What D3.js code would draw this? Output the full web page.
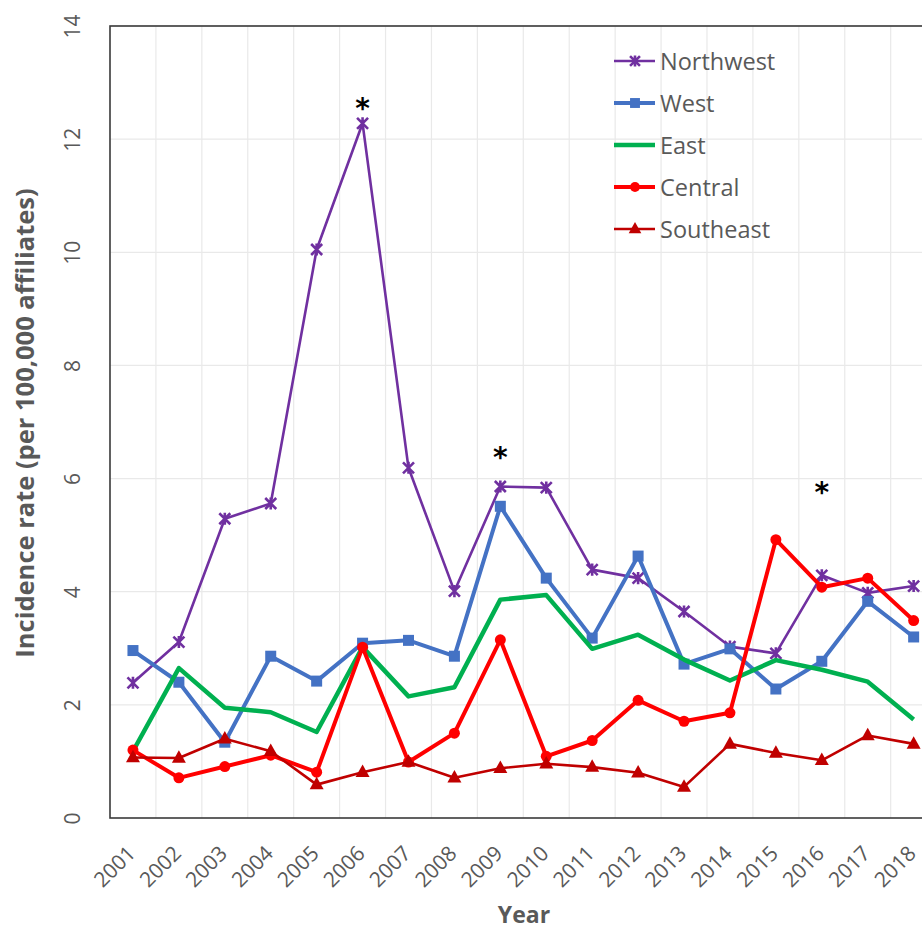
<!DOCTYPE html>
<html>
<head>
<meta charset="utf-8">
<script src="https://cdn.jsdelivr.net/npm/d3@7"></script>
<style>
  html, body { margin: 0; padding: 0; background: #fff; overflow: hidden; }
  svg { display: block; }
</style>
</head>
<body>
<svg id="chart" width="922" height="930"></svg>
<script>
// Incidence rate per 100,000 affiliates, by region, 2001–2018
const years = ["2001","2002","2003","2004","2005","2006","2007","2008","2009",
               "2010","2011","2012","2013","2014","2015","2016","2017","2018"];

const northwest = [2.39, 3.11, 5.29, 5.56, 10.05, 12.28, 6.19, 4.01, 5.86,
                   5.84, 4.39, 4.24, 3.65, 3.03, 2.91, 4.29, 3.98, 4.10];
const west      = [2.96, 2.40, 1.34, 2.86, 2.42, 3.09, 3.14, 2.86, 5.51,
                   4.24, 3.18, 4.63, 2.72, 2.99, 2.28, 2.77, 3.83, 3.20];
const east      = [1.18, 2.65, 1.95, 1.87, 1.52, 3.02, 2.15, 2.31, 3.86,
                   3.94, 2.99, 3.24, 2.80, 2.43, 2.79, 2.62, 2.41, 1.74];
const central   = [1.20, 0.71, 0.91, 1.11, 0.81, 3.02, 0.99, 1.50, 3.15,
                   1.09, 1.37, 2.08, 1.71, 1.86, 4.92, 4.08, 4.24, 3.49];
const southeast = [1.07, 1.06, 1.40, 1.18, 0.59, 0.81, 0.99, 0.71, 0.88,
                   0.96, 0.90, 0.80, 0.55, 1.31, 1.15, 1.02, 1.46, 1.31];

const yTicks = [0, 2, 4, 6, 8, 10, 12, 14];

// Significance markers (year, height in rate units)
const starYears  = ["2006", "2009", "2016"];
const starLevels = [12.66, 6.48, 5.86];

const seriesNames = ["Northwest", "West", "East", "Central", "Southeast"];
const seriesData  = [northwest, west, east, central, southeast];

const styles = {
  Northwest: { color: "#7030A0", width: 2.6, marker: "star" },
  West:      { color: "#4472C4", width: 4,   marker: "square" },
  East:      { color: "#00B050", width: 4.5, marker: "none" },
  Central:   { color: "#FF0000", width: 4,   marker: "circle" },
  Southeast: { color: "#C00000", width: 2.6, marker: "triangle" }
};

const svg = d3.select("#chart");
const plot = { left: 110, top: 26, bottom: 818, width: 826.6 };
const FONT = "'Open Sans', 'Noto Sans', sans-serif";
const GREY = "#595959";

const x = d3.scaleBand().domain(years).range([plot.left, plot.left + plot.width]).padding(0);
const y = d3.scaleLinear().domain([0, 14]).range([plot.bottom, plot.top]);
const cx = d => x(d) + x.bandwidth() / 2;

// gridlines
const grid = svg.append("g");
grid.selectAll("line.h").data(yTicks.slice(1)).join("line")
  .attr("x1", plot.left).attr("x2", plot.left + plot.width)
  .attr("y1", d => y(d)).attr("y2", d => y(d))
  .attr("stroke", "#e9e9e9").attr("stroke-width", 1.2);
grid.selectAll("line.v").data(years.slice(1)).join("line")
  .attr("x1", d => x(d)).attr("x2", d => x(d))
  .attr("y1", plot.top).attr("y2", plot.bottom)
  .attr("stroke", "#e9e9e9").attr("stroke-width", 1.2);

// frame
svg.append("rect")
  .attr("x", plot.left).attr("y", plot.top)
  .attr("width", plot.width).attr("height", plot.bottom - plot.top)
  .attr("fill", "none").attr("stroke", "#3a3a3a").attr("stroke-width", 1.6);

// y axis labels (rotated)
const yAxis = svg.append("g")
  .attr("transform", `translate(${plot.left},0)`)
  .call(d3.axisLeft(y).tickValues(yTicks).tickSize(0).tickPadding(0));
yAxis.select(".domain").remove();
yAxis.selectAll(".tick text")
  .attr("x", 0).attr("y", 0).attr("dy", null)
  .attr("transform", "translate(-38,0) rotate(-90)")
  .attr("text-anchor", "middle")
  .attr("dominant-baseline", "central")
  .style("font-family", FONT).style("font-size", "21px").attr("fill", GREY);

// x axis labels (rotated -45)
const xAxis = svg.append("g")
  .attr("transform", `translate(0,${plot.bottom})`)
  .call(d3.axisBottom(x).tickSize(0).tickPadding(0));
xAxis.select(".domain").remove();
xAxis.selectAll(".tick text")
  .attr("x", 0).attr("y", 0).attr("dy", null)
  .attr("transform", "translate(-2,31) rotate(-45)")
  .attr("text-anchor", "end")
  .attr("dominant-baseline", "central")
  .style("font-family", FONT).style("font-size", "21px").attr("fill", GREY);

// axis titles
svg.append("text")
  .attr("transform", `translate(24,423) rotate(-90)`)
  .attr("text-anchor", "middle").attr("dominant-baseline", "central")
  .style("font-family", FONT).style("font-size", "25.5px").style("font-weight", "bold")
  .attr("fill", GREY)
  .text("Incidence rate (per 100,000 affiliates)");
svg.append("text")
  .attr("x", 524).attr("y", 914)
  .attr("text-anchor", "middle").attr("dominant-baseline", "central")
  .style("font-family", FONT).style("font-size", "23px").style("font-weight", "bold")
  .attr("fill", GREY)
  .text("Year");

// marker drawing
function drawMarker(g, type, color, px, py, scale = 1) {
  if (type === "square") {
    const s = 11 * scale;
    g.append("rect").attr("x", px - s / 2).attr("y", py - s / 2)
      .attr("width", s).attr("height", s).attr("fill", color);
  } else if (type === "circle") {
    g.append("circle").attr("cx", px).attr("cy", py).attr("r", 5.5 * scale).attr("fill", color);
  } else if (type === "triangle") {
    const w = 14 * scale, h = 12.5 * scale;
    g.append("path")
      .attr("d", `M${px},${py - h * 0.62} L${px + w / 2},${py + h * 0.38} L${px - w / 2},${py + h * 0.38} Z`)
      .attr("fill", color);
  } else if (type === "star") {
    const r = 5.5 * scale;
    g.append("path")
      .attr("d", `M${px - r},${py - r} L${px + r},${py + r} M${px - r},${py + r} L${px + r},${py - r} M${px},${py - r * 1.1} L${px},${py + r * 1.1}`)
      .attr("stroke", color).attr("stroke-width", 2.6).attr("fill", "none");
  }
}

// series lines and markers
const line = d3.line().x(d => cx(d.year)).y(d => y(d.value));
seriesNames.forEach((name, i) => {
  const st = styles[name];
  const pts = years.map((yr, j) => ({ year: yr, value: seriesData[i][j] }));
  const g = svg.append("g");
  g.append("path").datum(pts).attr("d", line)
    .attr("fill", "none").attr("stroke", st.color)
    .attr("stroke-width", st.width).attr("stroke-linejoin", "round");
  pts.forEach(p => drawMarker(g, st.marker, st.color, cx(p.year), y(p.value)));
});

// significance asterisks
svg.selectAll("text.star").data(starYears).join("text")
  .attr("class", "star")
  .attr("x", d => cx(d))
  .attr("y", (d, i) => y(starLevels[i]))
  .attr("dy", 16)
  .attr("text-anchor", "middle")
  .style("font-family", "'DejaVu Sans', sans-serif").style("font-size", "28px")
  .style("font-weight", "bold")
  .attr("fill", "#000")
  .text("*");

// legend
const legend = svg.append("g");
seriesNames.forEach((name, i) => {
  const st = styles[name];
  const ly = 61 + i * 42;
  const g = legend.append("g");
  g.append("line").attr("x1", 614).attr("x2", 655).attr("y1", ly).attr("y2", ly)
    .attr("stroke", st.color).attr("stroke-width", st.width);
  drawMarker(g, st.marker, st.color, 635, ly, 0.9);
  g.append("text").attr("x", 660).attr("y", ly).attr("dominant-baseline", "central")
    .style("font-family", FONT).style("font-size", "23.5px").attr("fill", GREY)
    .text(name);
});
</script>
</body>
</html>
